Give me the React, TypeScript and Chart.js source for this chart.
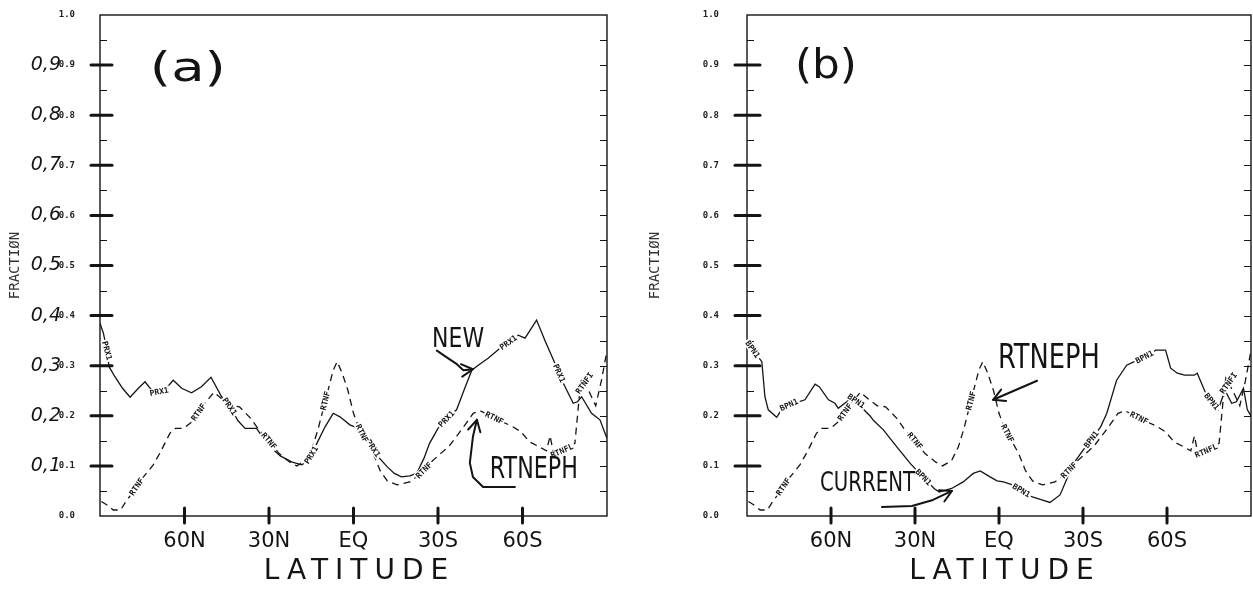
import React, { useEffect, useRef } from 'react';
import { Chart, registerables } from 'chart.js';

Chart.register(...registerables);

// ---------------- data (latitude in degrees, + = north) ----------------
const RTNEPH_LAT = [
  89.5, 87.5, 85.3, 82.7, 80.8, 78, 75, 71.1, 68.5, 65.2, 63.2, 60.2, 57, 53.5, 49.5, 47, 43.5, 40.5,
  36.5, 34, 30, 26.5, 22.7, 20.2, 17, 14.5, 12.5, 10, 7.2, 5.8, 4, 2, 0, -2, -4.5, -7, -9.5, -12,
  -15.5, -20, -24, -28, -31, -34, -37, -40, -42.5, -45, -48.5, -52, -56, -59.5, -62.5, -66, -68.5,
  -69.8, -71, -74, -78.6, -80.2, -81, -83.5, -86, -88, -90,
];
const RTNEPH = [
  0.029, 0.022, 0.012, 0.012, 0.029, 0.05, 0.075, 0.102, 0.128, 0.165, 0.175, 0.175, 0.19, 0.22, 0.247,
  0.235, 0.22, 0.218, 0.195, 0.175, 0.15, 0.125, 0.108, 0.1, 0.11, 0.138, 0.175, 0.23, 0.291, 0.308,
  0.285, 0.251, 0.205, 0.175, 0.15, 0.125, 0.09, 0.07, 0.062, 0.068, 0.085, 0.11, 0.125, 0.14, 0.162,
  0.185, 0.205, 0.21, 0.2, 0.19, 0.18, 0.168, 0.148, 0.138, 0.13, 0.16, 0.125, 0.13, 0.145, 0.24,
  0.275, 0.25, 0.22, 0.27, 0.33,
];

const NEW_LAT = [
  90, 88.8, 87.5, 86.8, 84.7, 82, 79.3, 76.4, 74, 71.7, 68.7, 66, 64, 61, 57.5, 54, 50.6, 46.8, 43.5,
  41, 38.5, 34.4, 32, 29, 26, 22, 18.4, 16, 13, 10.1, 7.2, 4.8, 1.3, -0.5, -3, -5.5, -8.5, -12, -14.5,
  -17, -20, -22.4, -25, -27, -30, -34, -36.6, -39.5, -42, -44.3, -47.8, -52, -56, -58.5, -60.9, -65,
  -68, -71.5, -74.5, -78, -79.5, -81, -84.5, -87.5, -89.3, -90,
];
const NEW = [
  0.385, 0.365, 0.33, 0.298, 0.278, 0.255, 0.237, 0.255, 0.268, 0.251, 0.248, 0.258, 0.271, 0.255,
  0.246, 0.258, 0.277, 0.238, 0.215, 0.19, 0.175, 0.175, 0.155, 0.135, 0.12, 0.108, 0.102, 0.11, 0.145,
  0.178, 0.205, 0.198, 0.182, 0.178, 0.165, 0.15, 0.12, 0.098, 0.085, 0.078, 0.08, 0.085, 0.115, 0.145,
  0.175, 0.2, 0.212, 0.255, 0.291, 0.301, 0.315, 0.335, 0.35, 0.361, 0.355, 0.391, 0.35, 0.305, 0.265,
  0.225, 0.228, 0.238, 0.205, 0.192, 0.165, 0.155,
];

const CURRENT_LAT = [
  90, 87.7, 84.7, 83.6, 82.4, 79.4, 77, 73.2, 69.3, 65.7, 64.2, 60.9, 58.6, 57.4, 54.4, 52.2, 49.7,
  46.1, 44.7, 41.3, 36.5, 31.7, 28.9, 25.7, 23.2, 21.3, 18.7, 16.9, 12.8, 9.2, 6.7, 3.2, 0.7, -1.6,
  -4.3, -8.3, -11.9, -15.3, -18.2, -21.8, -24.3, -27.3, -30.1, -33.3, -36.3, -38.5, -42, -45.6, -48.3,
  -52.3, -56, -59.5, -61.3, -63.7, -66.3, -69.7, -70.8, -73.6, -75.8, -78.3, -80.7, -83.1, -84.8,
  -87.3, -88.7, -90,
];
const CURRENT = [
  0.35, 0.33, 0.308, 0.238, 0.212, 0.197, 0.218, 0.225, 0.232, 0.263, 0.258, 0.232, 0.225, 0.215,
  0.228, 0.238, 0.22, 0.2, 0.19, 0.172, 0.138, 0.105, 0.088, 0.07, 0.055, 0.048, 0.052, 0.055, 0.068,
  0.085, 0.09, 0.078, 0.07, 0.068, 0.063, 0.05, 0.038, 0.032, 0.027, 0.042, 0.075, 0.11, 0.132, 0.155,
  0.178, 0.205, 0.271, 0.301, 0.308, 0.318, 0.331, 0.331, 0.295, 0.285, 0.281, 0.281, 0.285, 0.248,
  0.23, 0.212, 0.251, 0.225, 0.228, 0.255, 0.212, 0.2,
];

const X_TICKS = [60, 30, 0, -30, -60];
const X_TICK_LABELS = ['60N', '30N', 'EQ', '30S', '60S'];
const Y_HAND_TICKS = [0.1, 0.2, 0.3, 0.4, 0.5, 0.6, 0.7, 0.8, 0.9];
const Y_HAND_LABELS = ['0,1', '0,2', '0,3', '0,4', '0,5', '0,6', '0,7', '0,8', '0,9'];

// curve-tag latitudes (plotter labels written along the curves)
const PRX1_TAGS = [87.5, 69, 44, 15, -7, -33, -55, -73];
const RTNF_TAGS = [77, 55, 30, 10, -3, -25, -50, -74, -82];
const RTNF_TAG_TEXT = ['RTNF', 'RTNF', 'RTNF', 'RTNF', 'RTNF', 'RTNF', 'RTNF', 'RTNFL', 'RTNFI'];
const BPN1_TAGS = [88, 75, 51, 27, -8, -33, -52, -76];

// ---------------- styling / drawing helpers ----------------
const INK = '#141414';
const HAND = '"DejaVu Sans", sans-serif';
const MONO = '"DejaVu Sans Mono", monospace';

type Pt = [number, number];
interface Note { text: string; lat: number; val: number; size: number; width: number; }
interface Tag { text: string; lat: number; series: number; }
interface Series { lat: number[]; val: number[]; dash: boolean; }
interface PanelCfg {
  series: Series[];
  tags: Tag[];
  notes: Note[];
  arrows: Pt[][];
  handY: boolean;
  tickOut: number;
  tickIn: number;
}

function valueAt(lats: number[], vals: number[], L: number): number {
  if (L >= lats[0]) return vals[0];
  for (let i = 0; i < lats.length - 1; i++) {
    const a = lats[i];
    const b = lats[i + 1];
    if (L <= a && L >= b) {
      const t = a === b ? 0 : (a - L) / (a - b);
      return vals[i] + (vals[i + 1] - vals[i]) * t;
    }
  }
  return vals[vals.length - 1];
}

function makeDecor(cfg: PanelCfg) {
  return {
    id: 'decor',
    afterDraw(chart: any) {
      const ctx: CanvasRenderingContext2D = chart.ctx;
      const { left, right, top, bottom } = chart.chartArea;
      const xs = chart.scales.x;
      const ys = chart.scales.y;
      const X = (l: number) => xs.getPixelForValue(l);
      const Y = (v: number) => ys.getPixelForValue(v);
      ctx.save();
      ctx.strokeStyle = INK;
      ctx.fillStyle = INK;

      // frame
      ctx.lineWidth = 1.4;
      ctx.strokeRect(left, top, right - left, bottom - top);

      // printed inward ticks every 0.05 on both vertical sides
      ctx.lineWidth = 1;
      for (let k = 1; k < 20; k++) {
        const y = Math.round(Y(k * 0.05)) + 0.5;
        ctx.beginPath();
        ctx.moveTo(left, y);
        ctx.lineTo(left + 7, y);
        ctx.moveTo(right, y);
        ctx.lineTo(right - 7, y);
        ctx.stroke();
      }

      // hand-drawn major ticks
      ctx.lineWidth = 3;
      ctx.lineCap = 'round';
      Y_HAND_TICKS.forEach((v) => {
        const y = Y(v);
        ctx.beginPath();
        ctx.moveTo(left - cfg.tickOut, y);
        ctx.lineTo(left + cfg.tickIn, y);
        ctx.stroke();
      });
      X_TICKS.forEach((l) => {
        const x = X(l);
        ctx.beginPath();
        ctx.moveTo(x, bottom - 8);
        ctx.lineTo(x, bottom + 7);
        ctx.stroke();
      });

      // hand-written y labels
      if (cfg.handY) {
        ctx.font = `italic 19px ${HAND}`;
        ctx.textAlign = 'right';
        ctx.textBaseline = 'middle';
        Y_HAND_TICKS.forEach((v, i) => ctx.fillText(Y_HAND_LABELS[i], left - 39, Y(v)));
      }

      // axis title LATITUDE (hand lettering, widely spaced)
      ctx.font = `28px ${HAND}`;
      (ctx as any).letterSpacing = '7px';
      ctx.textAlign = 'center';
      ctx.textBaseline = 'middle';
      ctx.fillText('LATITUDE', (left + right) / 2 + 6, bottom + 56);
      (ctx as any).letterSpacing = '0px';

      // plotter tags along curves
      ctx.font = `bold 8px ${MONO}`;
      ctx.textAlign = 'center';
      ctx.textBaseline = 'middle';
      cfg.tags.forEach((t) => {
        const s = cfg.series[t.series];
        const x = X(t.lat);
        const y = Y(valueAt(s.lat, s.val, t.lat));
        const la = Math.min(90, t.lat + 2.5);
        const lb = Math.max(-90, t.lat - 2.5);
        const x1 = X(la), y1 = Y(valueAt(s.lat, s.val, la));
        const x2 = X(lb), y2 = Y(valueAt(s.lat, s.val, lb));
        const ang = Math.atan2(y2 - y1, x2 - x1);
        ctx.save();
        ctx.translate(x, y);
        ctx.rotate(ang);
        const w = ctx.measureText(t.text).width;
        ctx.fillStyle = '#fff';
        ctx.fillRect(-w / 2 - 1.5, -4, w + 3, 8);
        ctx.fillStyle = INK;
        ctx.fillText(t.text, 0, 0.5);
        ctx.restore();
      });

      // hand-written notes
      cfg.notes.forEach((n) => {
        ctx.font = `${n.size}px ${HAND}`;
        const w0 = ctx.measureText(n.text).width;
        ctx.save();
        ctx.translate(X(n.lat), Y(n.val));
        ctx.scale(n.width / w0, 1);
        ctx.textAlign = 'left';
        ctx.textBaseline = 'middle';
        ctx.fillText(n.text, 0, 0);
        ctx.restore();
      });

      // arrows
      ctx.lineWidth = 2;
      ctx.lineJoin = 'round';
      cfg.arrows.forEach((pts) => {
        ctx.beginPath();
        pts.forEach(([l, v], i) => (i ? ctx.lineTo(X(l), Y(v)) : ctx.moveTo(X(l), Y(v))));
        ctx.stroke();
        const [l1, v1] = pts[pts.length - 2];
        const [l2, v2] = pts[pts.length - 1];
        const ax = X(l2), ay = Y(v2);
        const a = Math.atan2(ay - Y(v1), ax - X(l1));
        ctx.beginPath();
        ctx.moveTo(ax - 13 * Math.cos(a - 0.5), ay - 13 * Math.sin(a - 0.5));
        ctx.lineTo(ax, ay);
        ctx.lineTo(ax - 13 * Math.cos(a + 0.5), ay - 13 * Math.sin(a + 0.5));
        ctx.stroke();
      });
      ctx.restore();
    },
  };
}

const PANEL_A: PanelCfg = {
  series: [
    { lat: NEW_LAT, val: NEW, dash: false },
    { lat: RTNEPH_LAT, val: RTNEPH, dash: true },
  ],
  tags: [
    ...PRX1_TAGS.map((lat) => ({ text: 'PRX1', lat, series: 0 })),
    ...RTNF_TAGS.map((lat, i) => ({ text: RTNF_TAG_TEXT[i], lat, series: 1 })),
  ],
  notes: [
    { text: '(a)', lat: 72.3, val: 0.89, size: 40, width: 76 },
    { text: 'NEW', lat: -27.9, val: 0.351, size: 27, width: 52 },
    { text: 'RTNEPH', lat: -48.4, val: 0.092, size: 30, width: 88 },
  ],
  arrows: [
    [[-29.6, 0.33], [-33.5, 0.315], [-36.7, 0.303], [-39, 0.291], [-42.4, 0.293]],
    [[-57.3, 0.058], [-46, 0.058], [-42.4, 0.078], [-41.3, 0.106], [-42.4, 0.158], [-43.8, 0.192]],
  ],
  handY: true,
  tickOut: 9,
  tickIn: 12,
};

const PANEL_B: PanelCfg = {
  series: [
    { lat: CURRENT_LAT, val: CURRENT, dash: false },
    { lat: RTNEPH_LAT, val: RTNEPH, dash: true },
  ],
  tags: [
    ...BPN1_TAGS.map((lat) => ({ text: 'BPN1', lat, series: 0 })),
    ...RTNF_TAGS.map((lat, i) => ({ text: RTNF_TAG_TEXT[i], lat, series: 1 })),
  ],
  notes: [
    { text: '(b)', lat: 72.9, val: 0.894, size: 40, width: 62 },
    { text: 'RTNEPH', lat: 0.4, val: 0.313, size: 34, width: 102 },
    { text: 'CURRENT', lat: 63.9, val: 0.064, size: 26, width: 95 },
  ],
  arrows: [
    [[-13.6, 0.27], [2.1, 0.232]],
    [[41.8, 0.018], [31.1, 0.02], [23.6, 0.032], [16.8, 0.05]],
  ],
  handY: false,
  tickOut: 12,
  tickIn: 13,
};

interface PanelProps {
  cfg: PanelCfg;
  left: number;
  width: number;
  axisWidth: number;
  rightPad: number;
  labelPad: number;
}

function Panel({ cfg, left, width, axisWidth, rightPad, labelPad }: PanelProps) {
  const ref = useRef<HTMLCanvasElement>(null);
  useEffect(() => {
    if (!ref.current) return;
    const chart = new Chart(ref.current, {
      type: 'line',
      data: {
        datasets: cfg.series.map((s) => ({
          data: s.lat.map((x, i) => ({ x, y: s.val[i] })),
          borderColor: INK,
          borderWidth: 1.3,
          borderDash: s.dash ? [7, 5] : [],
          pointRadius: 0,
          fill: false,
          tension: 0,
        })),
      },
      options: {
        responsive: false,
        animation: false,
        devicePixelRatio: 1,
        layout: { padding: { left: 0, top: 15, right: rightPad, bottom: 0 } },
        plugins: { legend: { display: false }, tooltip: { enabled: false } },
        scales: {
          x: {
            type: 'linear',
            min: -90,
            max: 90,
            reverse: true,
            afterBuildTicks: (s: any) => {
              s.ticks = X_TICKS.map((value) => ({ value }));
            },
            afterFit: (s: any) => {
              s.height = 73;
              s.paddingLeft = 0;
              s.paddingRight = 0;
            },
            ticks: {
              autoSkip: false,
              maxRotation: 0,
              padding: 5,
              color: INK,
              font: { family: HAND, size: 21 },
              callback: (v: any) => {
                const i = X_TICKS.indexOf(Number(v));
                return i >= 0 ? X_TICK_LABELS[i] : '';
              },
            },
            grid: { display: false },
            border: { display: false },
          },
          y: {
            min: 0,
            max: 1,
            afterFit: (s: any) => {
              s.width = axisWidth;
              s.paddingTop = 0;
              s.paddingBottom = 0;
            },
            ticks: {
              stepSize: 0.1,
              padding: labelPad,
              color: '#222',
              font: { family: MONO, size: 9, weight: 'bold' },
              callback: (v: any) => Number(v).toFixed(1),
            },
            grid: { display: false },
            border: { display: false },
            title: {
              display: true,
              text: 'FRACTIØN',
              color: '#333',
              font: { family: MONO, size: 14 },
              padding: { top: 7, bottom: 0 },
            },
          },
        },
      },
      plugins: [makeDecor(cfg)],
    } as any);
    return () => chart.destroy();
  }, []);
  return (
    <canvas
      ref={ref}
      width={width}
      height={589}
      style={{ position: 'absolute', left, top: 0, width, height: 589 }}
    />
  );
}

export default function App() {
  return (
    <div
      style={{
        position: 'fixed',
        left: 0,
        top: 0,
        width: 1253,
        height: 589,
        background: '#fff',
        overflow: 'hidden',
      }}
    >
      <Panel cfg={PANEL_A} left={0} width={626} axisWidth={100} rightPad={19} labelPad={17} />
      <Panel cfg={PANEL_B} left={640} width={613} axisWidth={107} rightPad={2} labelPad={20} />
    </div>
  );
}
